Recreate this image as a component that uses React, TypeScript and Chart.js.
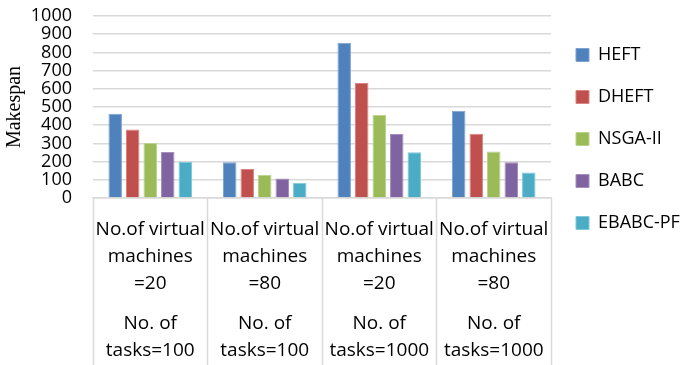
import React, { useEffect, useRef } from "react";
import { Chart, registerables } from "chart.js";

Chart.register(...registerables);

// Each category label: blank entries act as half-line spacers between text lines.
const categories: string[][] = [
  ["No.of virtual", "", "machines", "", "=20", "", "", "No. of", "", "tasks=100"],
  ["No.of virtual", "", "machines", "", "=80", "", "", "No. of", "", "tasks=100"],
  ["No.of virtual", "", "machines", "", "=20", "", "", "No. of", "", "tasks=1000"],
  ["No.of virtual", "", "machines", "", "=80", "", "", "No. of", "", "tasks=1000"],
];

const seriesNames = ["HEFT", "DHEFT", "NSGA-II", "BABC", "EBABC-PF"];

const heft = [463, 196, 853, 479];
const dheft = [376, 160, 632, 353];
const nsga2 = [302, 128, 457, 255];
const babc = [253, 107, 351, 196];
const ebabcPf = [198, 84, 251, 140];

const fills = ["#4F81BD", "#C0504D", "#9BBB59", "#8064A2", "#4BACC6"];
const edges = ["#7FA3D0", "#D98583", "#BAD38A", "#A48FC0", "#80C8DA"];

const yTitle = "Makespan";

// Moves the legend block to sit beside the upper part of the plot.
const legendOffset = {
  id: "legendOffset",
  afterLayout(chart: any) {
    const lg = chart.legend;
    if (!lg) return;
    const dy = 22 - lg.top;
    lg.top += dy;
    lg.bottom += dy;
    lg.left += 1;
    lg.right += 1;
  },
};

export default function App() {
  const canvasRef = useRef<HTMLCanvasElement | null>(null);

  useEffect(() => {
    if (!canvasRef.current) return;
    const values = [heft, dheft, nsga2, babc, ebabcPf];
    const chart = new Chart(canvasRef.current, {
      type: "bar",
      data: {
        labels: categories,
        datasets: seriesNames.map((name, i) => ({
          label: name,
          data: values[i],
          backgroundColor: fills[i],
          borderColor: edges[i],
          borderWidth: 1,
          categoryPercentage: 0.765,
          barPercentage: 0.77,
        })),
      },
      options: {
        animation: false,
        responsive: true,
        maintainAspectRatio: false,
        layout: { padding: 0 },
        plugins: {
          tooltip: { enabled: false },
          legend: {
            position: "right",
            align: "start",
            maxWidth: 130,
            labels: {
              boxWidth: 13,
              boxHeight: 13,
              padding: 24,
              color: "#000",
              font: { family: "'Open Sans'", size: 18 },
            },
          },
        },
        scales: {
          x: {
            offset: true,
            grid: {
              display: true,
              offset: true,
              drawOnChartArea: false,
              drawTicks: true,
              tickLength: 170,
              tickColor: "#d9d9d9",
              tickWidth: 1.5,
            },
            border: { display: true, color: "#d9d9d9", width: 1.5 },
            ticks: {
              color: "#000",
              maxRotation: 0,
              autoSkip: false,
              padding: -145,
              font: { family: "'Open Sans'", size: 19, lineHeight: "13.4px" },
            },
            afterFit: (scale: any) => {
              scale.height = 167;
            },
          },
          y: {
            min: 0,
            max: 1000,
            border: { display: false },
            grid: { color: "#d9d9d9", lineWidth: 1.5, drawTicks: false },
            ticks: {
              stepSize: 100,
              autoSkip: false,
              padding: 21,
              color: "#000",
              font: { family: "'Open Sans'", size: 18, lineHeight: 1 },
              callback: (v: any) => String(v),
            },
            title: {
              display: true,
              text: yTitle,
              color: "#000",
              padding: { top: 3, bottom: 0 },
              font: { family: "'Liberation Serif'", size: 20 },
            },
            afterFit: (scale: any) => {
              scale.width = 93;
              scale.paddingTop = 16;
              scale.paddingBottom = 0;
            },
          },
        },
      },
      plugins: [legendOffset],
    });
    return () => chart.destroy();
  }, []);

  return (
    <div style={{ position: "absolute", left: 0, top: 0, width: 681, height: 365, background: "#fff" }}>
      <canvas ref={canvasRef} />
    </div>
  );
}
